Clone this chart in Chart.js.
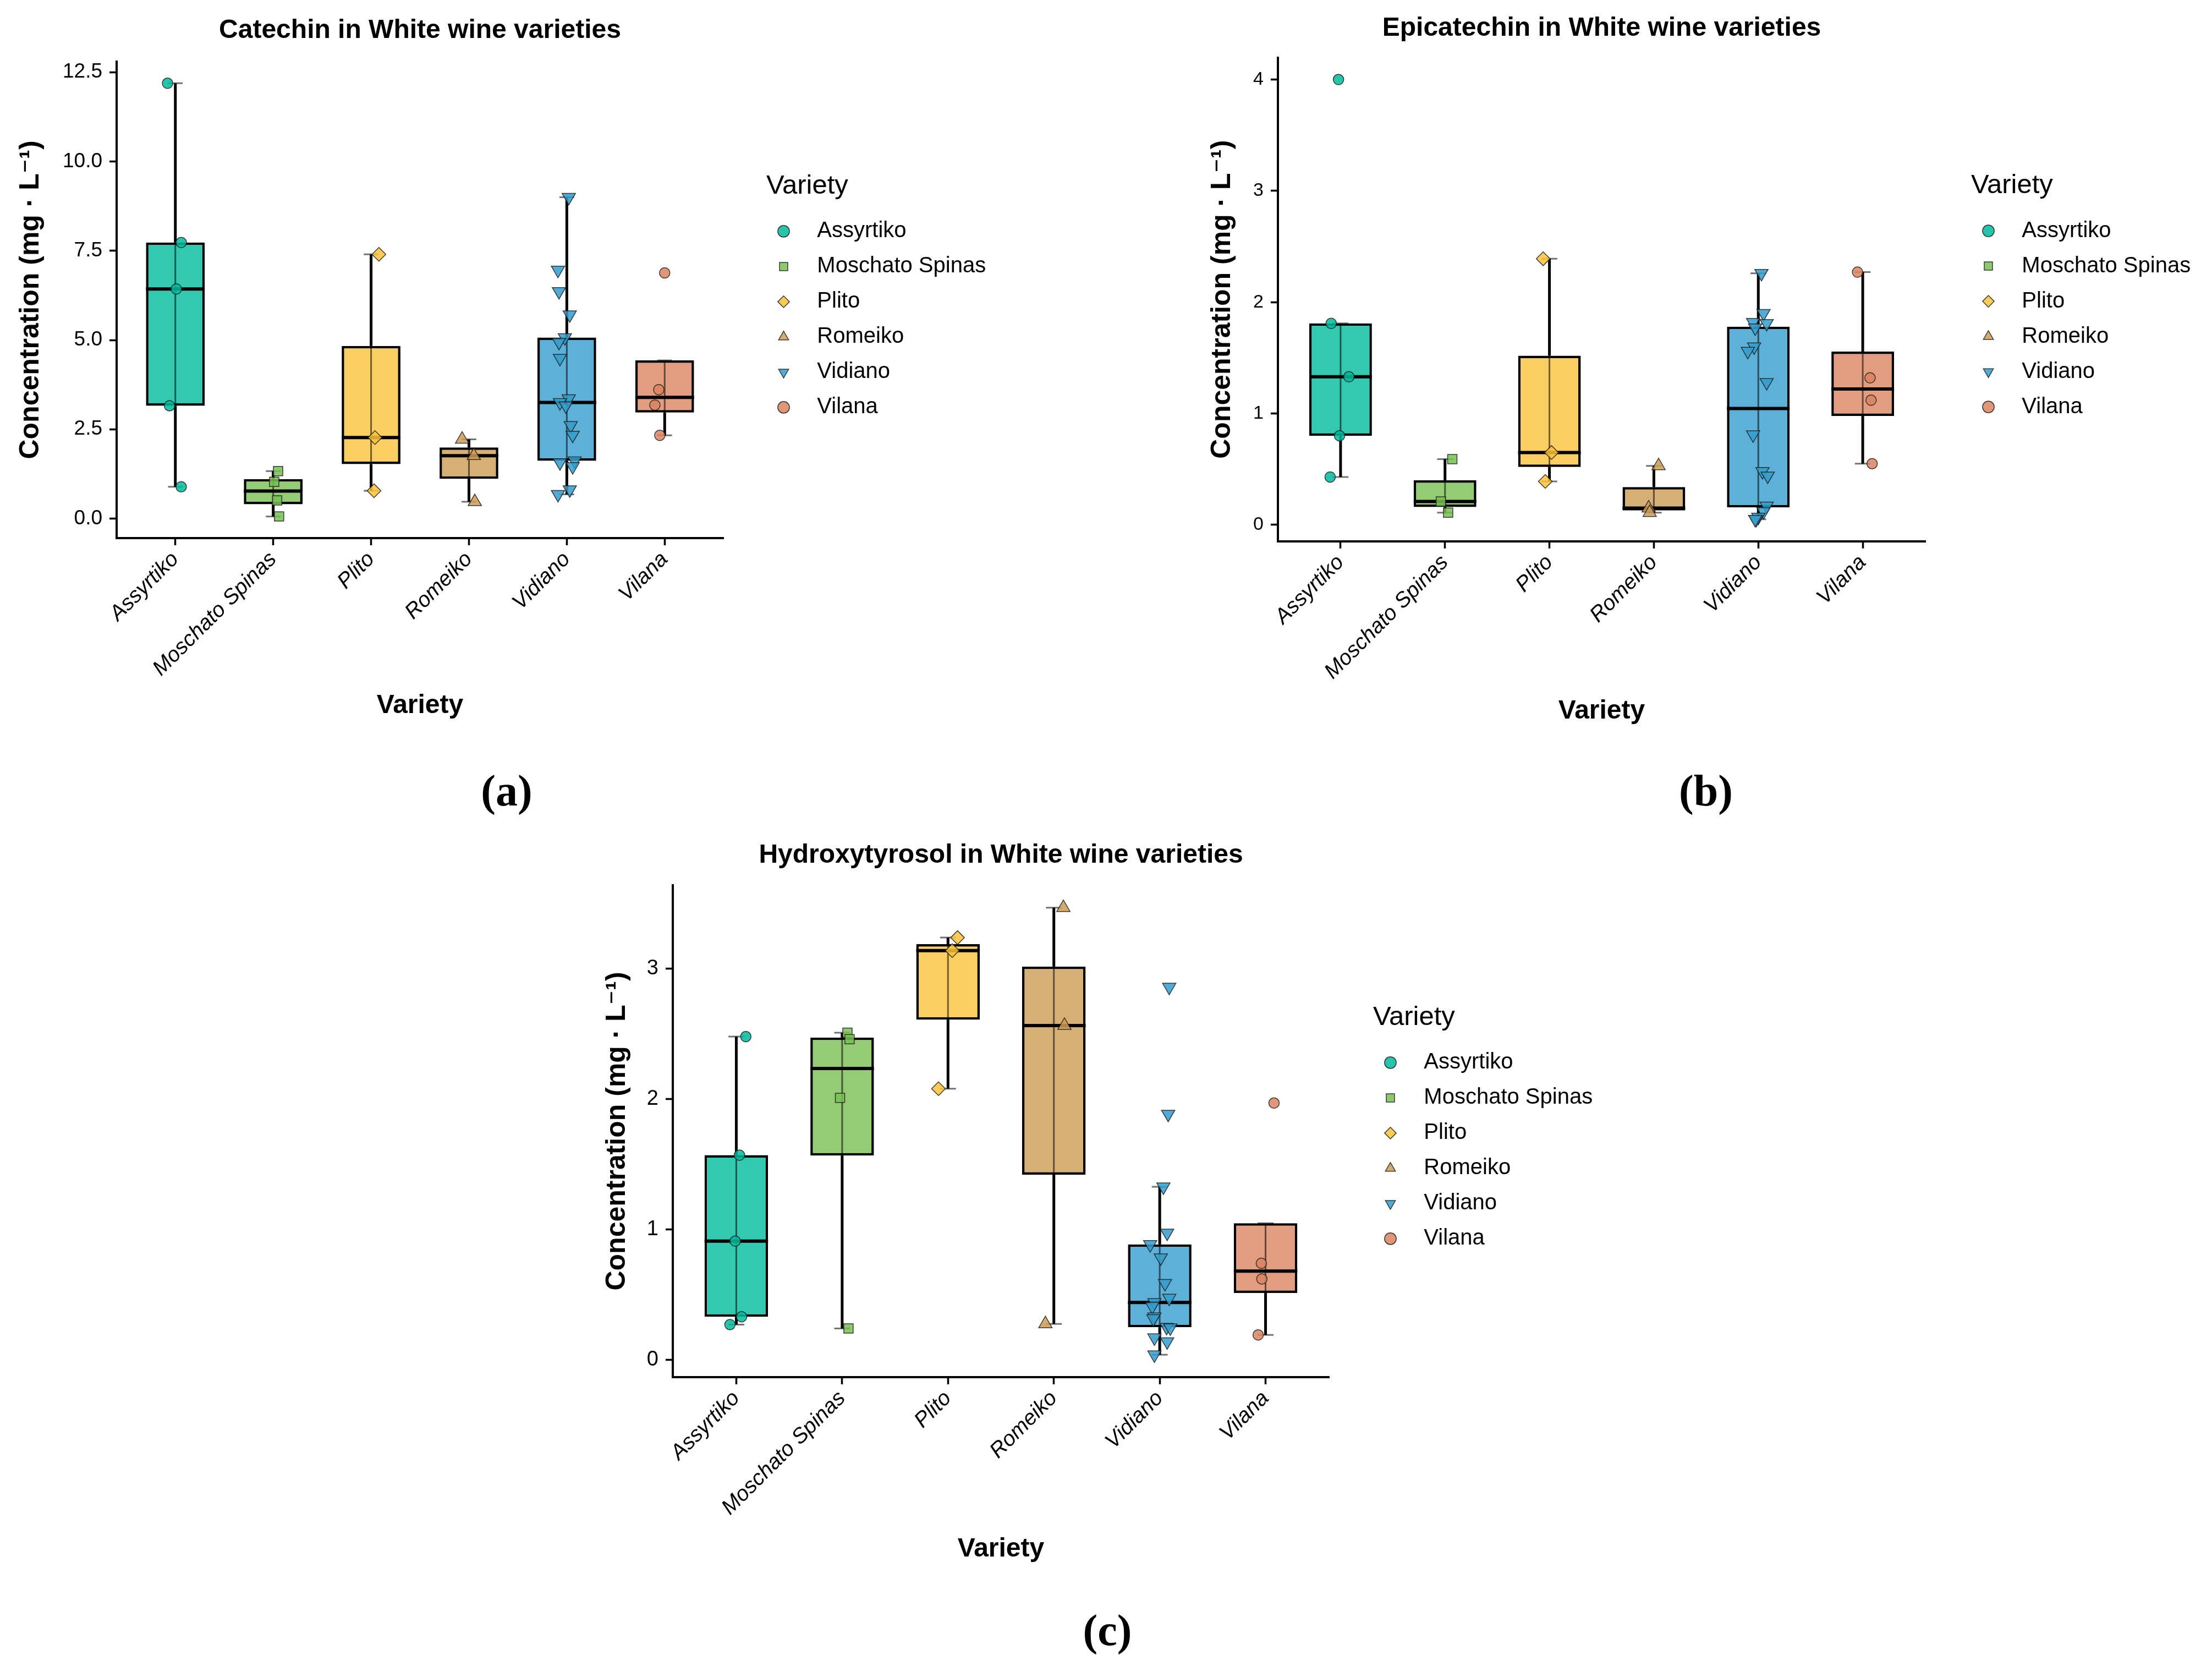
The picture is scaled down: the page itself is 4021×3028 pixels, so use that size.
<!DOCTYPE html>
<html>
<head>
<meta charset="utf-8">
<title>Phenolics in White wine varieties</title>
<script src="https://cdn.jsdelivr.net/npm/chart.js@4.4.1/dist/chart.umd.min.js"></script>
<style>
  html, body { margin: 0; padding: 0; background: #fff; }
  body { width: 4021px; height: 3028px; position: relative; overflow: hidden; }
  canvas { position: absolute; }
  .tag { position: absolute; transform: translate(-50%, -50%); font-family: "Liberation Serif", "DejaVu Serif", serif; font-weight: bold; font-size: 80px; color: #000; }
</style>
</head>
<body>
<canvas id="catechin" width="1833" height="1340" style="left:0px;top:0px"></canvas>
<canvas id="epicatechin" width="1853" height="1340" style="left:2150px;top:0px"></canvas>
<canvas id="hydroxytyrosol" width="1886" height="1400" style="left:1050px;top:1480px"></canvas>
<div class="tag" style="left:921px;top:1437px">(a)</div>
<div class="tag" style="left:3101px;top:1437px">(b)</div>
<div class="tag" style="left:2013px;top:2963px">(c)</div>
<script>
const varieties = ["Assyrtiko", "Moschato Spinas", "Plito", "Romeiko", "Vidiano", "Vilana"];

// Catechin: box stats (whisker ends, quartiles, median) and the jittered samples
const catechinLow  = [0.89, 0.06, 0.78, 0.47, 0.68, 2.33];
const catechinQ1   = [3.16, 0.40, 1.525, 1.115, 1.62, 2.97];
const catechinMed  = [6.43, 0.77, 2.27, 1.76, 3.25, 3.395];
const catechinQ3   = [7.73, 1.105, 4.835, 1.99, 5.07, 4.43];
const catechinHigh = [12.19, 1.33, 7.40, 2.22, 9.0, 4.43];
const catechinPoints = [
  [12.19, 7.73, 6.43, 3.16, 0.89],
  [1.33, 1.03, 0.51, 0.06],
  [7.40, 2.27, 0.78],
  [2.22, 1.76, 0.47],
  [9.0, 6.96, 6.36, 5.71, 5.07, 4.94, 4.49, 3.36, 3.25, 3.16, 2.61, 2.34, 1.57, 1.62, 1.46, 0.81, 0.68],
  [6.88, 3.61, 3.18, 2.33]
];
const catechinJitter = [
  [-0.08, 0.06, 0.01, -0.06, 0.06],
  [0.05, 0.01, 0.04, 0.06],
  [0.08, 0.04, 0.03],
  [-0.07, 0.05, 0.06],
  [0.02, -0.09, -0.08, 0.03, -0.02, -0.08, -0.07, 0.02, -0.07, -0.01, 0.04, 0.06, -0.07, 0.08, 0.06, 0.03, -0.09],
  [0.0, -0.06, -0.10, -0.05]
];
const catechinTicks = [0, 2.5, 5, 7.5, 10, 12.5];

// Epicatechin
const epicatechinLow  = [0.43, 0.11, 0.39, 0.11, 0.05, 0.55];
const epicatechinQ1   = [0.80, 0.16, 0.52, 0.13, 0.157, 0.978];
const epicatechinMed  = [1.33, 0.21, 0.65, 0.15, 1.045, 1.22];
const epicatechinQ3   = [1.81, 0.40, 1.52, 0.34, 1.78, 1.557];
const epicatechinHigh = [1.81, 0.59, 2.39, 0.53, 2.26, 2.27];
const epicatechinPoints = [
  [4.0, 1.81, 1.33, 0.80, 0.43],
  [0.59, 0.21, 0.11],
  [2.39, 0.65, 0.39],
  [0.53, 0.15, 0.11],
  [2.26, 1.90, 1.82, 1.81, 1.77, 1.60, 1.56, 1.28, 0.81, 0.48, 0.44, 0.17, 0.12, 0.07, 0.05, 0.05],
  [2.27, 1.32, 1.12, 0.55]
];
const epicatechinJitter = [
  [-0.02, -0.09, 0.08, -0.01, -0.10],
  [0.07, -0.04, 0.03],
  [-0.06, 0.02, -0.04],
  [0.045, -0.05, -0.04],
  [0.03, 0.05, -0.05, 0.08, -0.03, -0.04, -0.10, 0.08, -0.05, 0.04, 0.09, 0.08, 0.05, 0.0, -0.02, -0.03],
  [-0.05, 0.07, 0.08, 0.09]
];
const epicatechinTicks = [0, 1, 2, 3, 4];

// Hydroxytyrosol
const hydroxyLow  = [0.27, 0.24, 2.08, 0.275, 0.038, 0.19];
const hydroxyQ1   = [0.33, 1.5675, 2.61, 1.42, 0.25, 0.5125];
const hydroxyMed  = [0.91, 2.235, 3.14, 2.565, 0.44, 0.68];
const hydroxyQ3   = [1.57, 2.4725, 3.19, 3.0175, 0.885, 1.0475];
const hydroxyHigh = [2.48, 2.51, 3.24, 3.47, 1.327, 1.0475];
const hydroxyPoints = [
  [2.48, 1.57, 0.91, 0.33, 0.27],
  [2.51, 2.46, 2.01, 0.24],
  [3.24, 3.14, 2.08],
  [3.47, 2.565, 0.275],
  [2.86, 1.885, 1.327, 0.973, 0.885, 0.783, 0.586, 0.473, 0.44, 0.41, 0.33, 0.316, 0.25, 0.245, 0.139, 0.169, 0.038],
  [1.97, 0.74, 0.62, 0.19]
];
const hydroxyJitter = [
  [0.09, 0.03, -0.01, 0.05, -0.06],
  [0.05, 0.07, -0.02, 0.06],
  [0.09, 0.04, -0.09],
  [0.09, 0.10, -0.08],
  [0.09, 0.08, 0.035, 0.07, -0.09, 0.01, 0.05, 0.09, -0.05, -0.07, -0.05, -0.06, 0.065, 0.10, 0.07, -0.05, -0.05],
  [0.08, -0.04, -0.035, -0.07]
];
const hydroxyTicks = [0, 1, 2, 3];

// look
Chart.defaults.font.family = "'Liberation Sans', Arial, 'DejaVu Sans', sans-serif";
Chart.defaults.color = "#000";
const rgb = [[0, 186, 156], [120, 191, 82], [250, 194, 59], [204, 155, 85], [52, 156, 205], [219, 132, 96]];
const shapes = ["circle", "rect", "rectRot", "triangle", "triangle", "circle"];
const turns = [0, 0, 0, 0, 180, 0];
const radii = [9.5, 12, 12.5, 14, 14, 9.5];
const HALF_BOX = 0.3;
const CAP = 0.075;
const LEGEND_W = 420;
const fill = (i, a) => `rgba(${rgb[i].join(",")},${a})`;

// ggplot-style 5% padding of the data range
function expandRange(points) {
  const all = points.flat();
  const lo = Math.min(...all), hi = Math.max(...all);
  const pad = (hi - lo) * 0.05;
  return [lo - pad, hi + pad];
}

// list of [x1, y1, x2, y2] -> line data broken by gaps
function segments(list) {
  const out = [];
  list.forEach(([x1, y1, x2, y2]) => out.push({ x: x1, y: y1 }, { x: x2, y: y2 }, { x: x2, y: null }));
  return out;
}

function pointDatasets(points, jitter) {
  return varieties.map((name, i) => ({
    type: "scatter",
    label: name,
    order: 0,
    data: points[i].map((v, k) => ({ x: i + 1 + jitter[i][k], y: v })),
    pointStyle: shapes[i],
    pointRotation: turns[i],
    pointRadius: radii[i],
    backgroundColor: fill(i, 0.85),
    pointBackgroundColor: fill(i, 0.85),
    borderColor: "rgba(30,30,30,0.85)",
    pointBorderColor: "rgba(30,30,30,0.85)",
    borderWidth: 1.5,
    pointBorderWidth: 1.5
  }));
}

function boxDatasets(st) {
  const xs = varieties.map((_, i) => i + 1);
  const line = { type: "line", showLine: true, pointRadius: 0, fill: false, tension: 0, borderCapStyle: "butt" };
  return [
    { ...line, label: "median", order: 1, borderColor: "#000", borderWidth: 6,
      data: segments(xs.map((x, i) => [x - HALF_BOX, st.med[i], x + HALF_BOX, st.med[i]])) },
    { ...line, label: "errorbar", order: 2, borderColor: "rgba(0,0,0,0.55)", borderWidth: 3,
      data: segments(xs.flatMap((x, i) => [
        [x, st.low[i], x, st.high[i]],
        [x - CAP, st.high[i], x + CAP, st.high[i]],
        [x - CAP, st.low[i], x + CAP, st.low[i]]
      ])) },
    { ...line, label: "whisker", order: 3, borderColor: "#000", borderWidth: 5,
      data: segments(xs.flatMap((x, i) => [[x, st.q3[i], x, st.high[i]], [x, st.low[i], x, st.q1[i]]])) },
    { type: "bar", label: "box", order: 4,
      data: xs.map((x, i) => ({ x: x, y: [st.q1[i], st.q3[i]] })),
      backgroundColor: xs.map((_, i) => fill(i, 0.8)),
      borderColor: "#000", borderWidth: 4.5, borderSkipped: false,
      categoryPercentage: 1, barPercentage: 0.6 }
  ];
}

function drawPanel(id, p) {
  const [ymin, ymax] = expandRange(p.points);
  new Chart(document.getElementById(id), {
    type: "scatter",
    data: { datasets: [...pointDatasets(p.points, p.jitter), ...boxDatasets(p.stats)] },
    options: {
      responsive: false,
      animation: false,
      devicePixelRatio: 1,
      events: [],
      layout: { padding: { left: 0, top: 0, bottom: 0, right: p.padRight } },
      plugins: {
        tooltip: { enabled: false },
        title: {
          display: true, text: p.title, fullSize: false, color: "#000",
          font: { size: 48, weight: "bold" }, padding: p.titlePad
        },
        legend: {
          position: "right", align: "center", fullSize: false, maxWidth: LEGEND_W,
          title: { display: true, text: "Variety", position: "start", color: "#000", font: { size: 49 }, padding: { top: 8, bottom: 4 } },
          labels: {
            usePointStyle: true, boxWidth: 15, boxHeight: 15, padding: 24, color: "#000",
            font: { size: 40 },
            // leading spaces = gap after the key, trailing ones keep the legend box at LEGEND_W
            generateLabels: chart => Chart.defaults.plugins.legend.labels.generateLabels(chart)
              .filter(l => l.datasetIndex < varieties.length)
              .map(l => ({ ...l, text: "   " + l.text + "              " }))
          }
        }
      },
      scales: {
        x: {
          type: "linear", min: 0.4, max: 6.6, offset: false,
          afterBuildTicks: ax => { ax.ticks = varieties.map((_, i) => ({ value: i + 1 })); },
          afterFit: s => { s.height = p.xHeight; },
          ticks: {
            autoSkip: false, minRotation: 45, maxRotation: 45, padding: 3, color: "#000",
            font: { size: 39, style: "italic" },
            callback: v => varieties[Math.round(v) - 1]
          },
          grid: { display: true, offset: false, drawOnChartArea: false, drawTicks: true, tickLength: 13, tickWidth: 3.5, tickColor: "#000" },
          border: { display: true, color: "#000", width: 4 },
          title: { display: true, text: "Variety", color: "#000", font: { size: 48, weight: "bold" }, padding: { top: 0, bottom: p.xTitlePad } }
        },
        y: {
          type: "linear", min: ymin, max: ymax, offset: false,
          afterBuildTicks: ax => { ax.ticks = p.ticks.map(v => ({ value: v })); },
          afterFit: s => { s.width = p.yWidth; },
          ticks: { padding: 13, color: "#000", font: { size: p.tickSize }, callback: p.tickFormat },
          grid: { display: true, offset: false, drawOnChartArea: false, drawTicks: true, tickLength: 13, tickWidth: 3.5, tickColor: "#000" },
          border: { display: true, color: "#000", width: 4 },
          title: { display: true, text: "Concentration (mg · L⁻¹)", color: "#000", font: { size: 50, weight: "bold" }, padding: { top: p.yTitlePad, bottom: 0 } }
        },
        // empty axis that only keeps the legend away from the panel
        gap: {
          type: "linear", position: "right", display: true,
          grid: { display: false, drawTicks: false }, border: { display: false }, ticks: { display: false },
          afterFit: s => { s.width = p.gap; }
        }
      }
    }
  });
}

drawPanel("catechin", {
  title: "Catechin in White wine varieties",
  stats: { low: catechinLow, q1: catechinQ1, med: catechinMed, q3: catechinQ3, high: catechinHigh },
  points: catechinPoints, jitter: catechinJitter, ticks: catechinTicks,
  tickFormat: v => v.toFixed(1), tickSize: 37,
  titlePad: { top: 27.2, bottom: 27.2 }, yWidth: 212, yTitlePad: 26,
  xHeight: 362, xTitlePad: 28.2, gap: 78, padRight: 20
});

drawPanel("epicatechin", {
  title: "Epicatechin in White wine varieties",
  stats: { low: epicatechinLow, q1: epicatechinQ1, med: epicatechinMed, q3: epicatechinQ3, high: epicatechinHigh },
  points: epicatechinPoints, jitter: epicatechinJitter, ticks: epicatechinTicks,
  tickFormat: v => String(v), tickSize: 34,
  titlePad: { top: 23.2, bottom: 23.8 }, yWidth: 173, yTitlePad: 42,
  xHeight: 356.2, xTitlePad: 18.2, gap: 83, padRight: 0
});

drawPanel("hydroxytyrosol", {
  title: "Hydroxytyrosol in White wine varieties",
  stats: { low: hydroxyLow, q1: hydroxyQ1, med: hydroxyMed, q3: hydroxyQ3, high: hydroxyHigh },
  points: hydroxyPoints, jitter: hydroxyJitter, ticks: hydroxyTicks,
  tickFormat: v => String(v), tickSize: 38,
  titlePad: { top: 46.2, bottom: 25.2 }, yWidth: 173, yTitlePad: 42,
  xHeight: 377, xTitlePad: 35.2, gap: 80, padRight: 20
});
</script>
</body>
</html>
